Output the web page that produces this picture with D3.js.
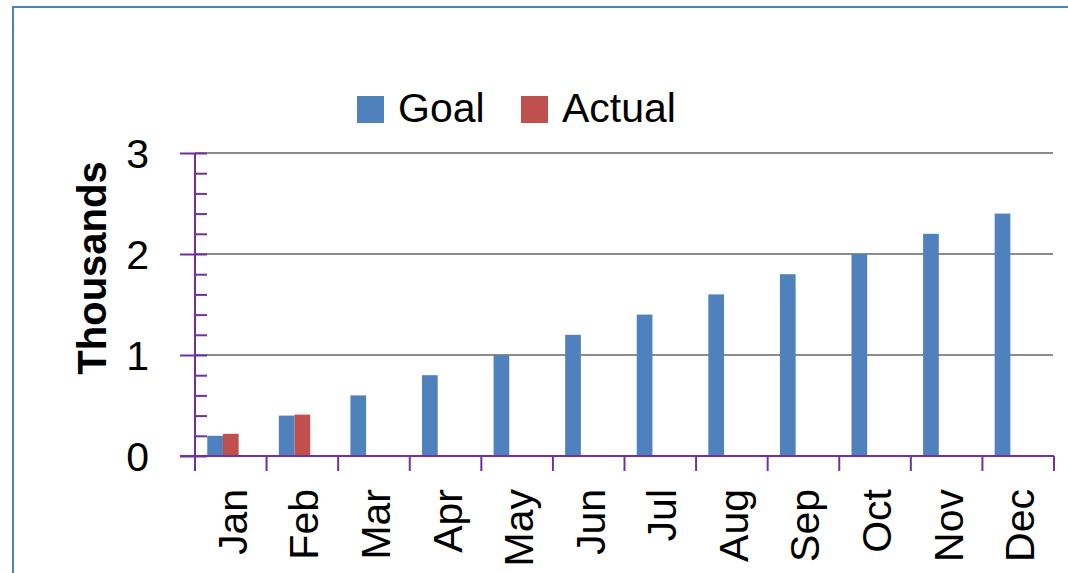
<!DOCTYPE html>
<html>
<head>
<meta charset="utf-8">
<script src="https://cdn.jsdelivr.net/npm/d3@7"></script>
<style>
  body { margin: 0; background: #fff; }
  text { font-family: "Liberation Sans", Arial, sans-serif; fill: #000; }
</style>
</head>
<body>
<div class="chart"></div>
<script>
// chart data
const months = ["Jan","Feb","Mar","Apr","May","Jun","Jul","Aug","Sep","Oct","Nov","Dec"];
const goal   = [0.2, 0.4, 0.6, 0.8, 1.0, 1.2, 1.4, 1.6, 1.8, 2.0, 2.2, 2.4];
const actual = [0.22, 0.41, null, null, null, null, null, null, null, null, null, null];
const seriesNames = ["Goal", "Actual"];
const seriesColors = ["#4F81BD", "#C0504D"];
const yMajorTicks = [0, 1, 2, 3];

const W = 1068, H = 573;
const axisColor = "#7030A0";

const svg = d3.select(".chart").append("svg")
    .attr("width", W)
    .attr("height", H)

// outer chart border (runs off the right and bottom of the picture)
svg.append("rect")
    .attr("x", 13).attr("y", 7)
    .attr("width", W + 20).attr("height", H + 20)
    .attr("fill", "none")
    .attr("stroke", "#4F81BD")
    .attr("stroke-width", 2)

const xScale = d3.scaleBand()
    .domain(months)
    .range([195, 1054])
    .padding(0);

// third slot is an empty series in the original workbook
const xInner = d3.scaleBand()
    .domain(["Goal", "Actual", "spare"])
    .range([0, xScale.bandwidth()])
    .paddingInner(0)
    .paddingOuter(0.78);

const yScale = d3.scaleLinear()
    .domain([0, 3])
    .range([456, 153]);

// gridlines
svg.append("g")
    .selectAll("line")
    .data(yMajorTicks.filter(d => d > 0))
    .enter().append("line")
    .attr("x1", 195).attr("x2", 1053)
    .attr("y1", d => yScale(d)).attr("y2", d => yScale(d))
    .attr("stroke", "#8C8C8C")
    .attr("stroke-width", 2)

// bars
const rows = months.map((m, i) => ({month: m, values: [goal[i], actual[i]]}));
svg.append("g")
    .selectAll("g")
    .data(rows)
    .enter().append("g")
    .attr("transform", d => `translate(${xScale(d.month)},0)`)
    .selectAll("rect")
    .data(d => d.values.map((v, j) => ({key: seriesNames[j], value: v, color: seriesColors[j]})).filter(d => d.value != null))
    .enter().append("rect")
    .attr("x", d => xInner(d.key))
    .attr("width", xInner.bandwidth())
    .attr("y", d => yScale(d.value))
    .attr("height", d => yScale(0) - yScale(d.value))
    .attr("fill", d => d.color)

// y axis: minor ticks to the right, major ticks + labels to the left
const yMinor = d3.axisRight(yScale)
    .tickValues(d3.range(0, 16).map(i => i * 0.2))
    .tickSize(12)
    .tickFormat("");
svg.append("g")
    .attr("transform", "translate(195,0)")
    .call(yMinor)
    .call(g => g.select(".domain").remove())
    .call(g => g.selectAll(".tick line").attr("stroke", axisColor).attr("stroke-width", 2))

const yAxis = d3.axisLeft(yScale)
    .tickValues(yMajorTicks)
    .tickSize(15)
    .tickPadding(31)
    .tickFormat(d3.format("d"));
svg.append("g")
    .attr("transform", "translate(195,0)")
    .call(yAxis)
    .call(g => g.select(".domain").remove())
    .call(g => g.selectAll(".tick line").attr("stroke", axisColor).attr("stroke-width", 2))
    .call(g => g.selectAll(".tick text")
        .attr("font-size", "41px")
        .attr("font-family", "Liberation Sans, Arial, sans-serif")
        .attr("fill", "#000")
        .attr("dy", "0.36em"))

svg.append("line")
    .attr("x1", 195).attr("x2", 195)
    .attr("y1", yScale(3)).attr("y2", 471)
    .attr("stroke", axisColor).attr("stroke-width", 2)

// x axis
svg.append("line")
    .attr("x1", 180).attr("x2", 1054)
    .attr("y1", yScale(0)).attr("y2", yScale(0))
    .attr("stroke", axisColor).attr("stroke-width", 2)

svg.append("g")
    .selectAll("line")
    .data(months.map(m => xScale(m)).concat([xScale.range()[1]]))
    .enter().append("line")
    .attr("x1", d => d).attr("x2", d => d)
    .attr("y1", yScale(0)).attr("y2", 471)
    .attr("stroke", axisColor).attr("stroke-width", 2)

const xAxis = d3.axisBottom(xScale).tickSize(0);
svg.append("g")
    .attr("transform", `translate(0,${yScale(0)})`)
    .call(xAxis)
    .call(g => g.select(".domain").remove())
    .call(g => g.selectAll(".tick text")
        .attr("font-size", "41px")
        .attr("font-family", "Liberation Sans, Arial, sans-serif")
        .attr("fill", "#000")
        .attr("transform", "rotate(-90)")
        .attr("text-anchor", "end")
        .attr("x", -33)
        .attr("y", 16)
        .attr("dy", 0))

// y title
svg.append("text")
    .attr("transform", "translate(106,268) rotate(-90)")
    .attr("text-anchor", "middle")
    .attr("font-size", "40px")
    .attr("font-weight", "bold")
    .text("Thousands")

// legend
const legendX = [357, 521];
const legend = svg.append("g")
    .selectAll("g")
    .data(seriesNames)
    .enter().append("g")
    .attr("transform", (d, i) => `translate(${legendX[i]},96)`)
legend.append("rect")
    .attr("width", 27).attr("height", 27)
    .attr("fill", (d, i) => seriesColors[i])
legend.append("text")
    .attr("x", 41)
    .attr("y", 26)
    .attr("font-size", "41px")
    .text(d => d)
</script>
</body>
</html>
